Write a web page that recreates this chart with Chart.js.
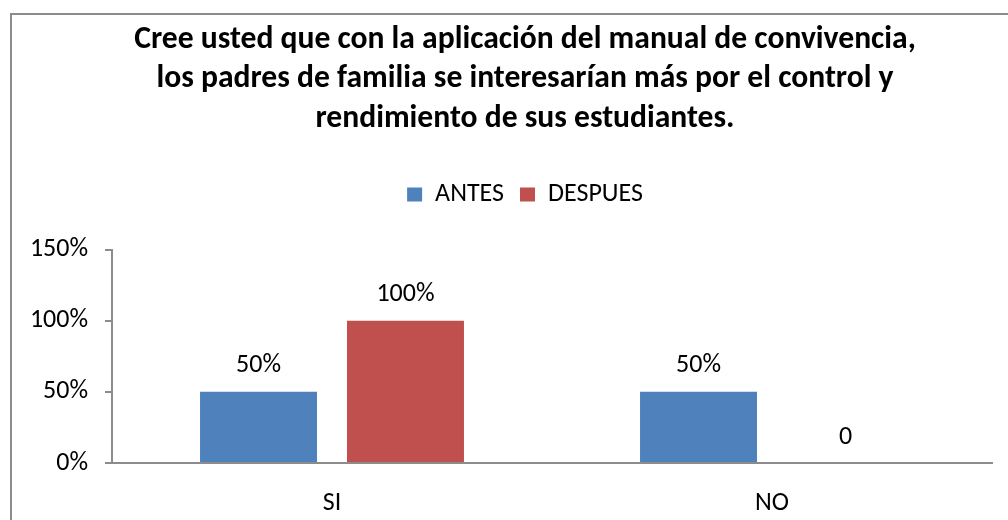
<!DOCTYPE html>
<html>
<head>
<meta charset="utf-8">
<script src="https://cdn.jsdelivr.net/npm/chart.js@4"></script>
<style>
  html, body { margin: 0; padding: 0; background: #fff; overflow: hidden; }
  #frame {
    position: absolute; left: 10px; top: 13px;
    width: 1040px; height: 520px;
    border-left: 2px solid #8c8c8c; border-top: 2px solid #8c8c8c;
  }
  #wrap { position: absolute; left: 0; top: 0; width: 1026px; height: 505px; }
</style>
</head>
<body>
<div id="frame"><div id="wrap"><canvas id="chart"></canvas></div></div>
<script>
// chart values
const categories = ['SI', 'NO'];
const antes = [0.5, 0.5];
const despues = [1.0, 0];
const antesLabels = ['50%', '50%'];
const despuesLabels = ['100%', '0'];
const titleLines = [
  'Cree usted que con la aplicación del manual de convivencia,',
  'los padres de familia se interesarían más por el control y',
  'rendimiento de sus estudiantes.'
];

const font = 'Carlito, Lato, "Open Sans", sans-serif';

// draws the value text over each bar
const barLabels = {
  id: 'barLabels',
  afterDatasetsDraw(chart) {
    const ctx = chart.ctx;
    ctx.save();
    ctx.font = '26px ' + font;
    ctx.fillStyle = '#000';
    ctx.textAlign = 'center';
    ctx.textBaseline = 'middle';
    chart.data.datasets.forEach((ds, i) => {
      chart.getDatasetMeta(i).data.forEach((bar, j) => {
        ctx.fillText(ds.valueLabels[j], bar.x, bar.y - 26);
      });
    });
    ctx.restore();
  }
};

// extra room between legend and plot
const legendGap = {
  id: 'legendGap',
  beforeLayout(chart) {
    const lg = chart.legend;
    if (lg && !lg._gap) {
      const fit = lg.fit.bind(lg);
      lg.fit = function () { fit(); this.height += 32; };
      lg._gap = true;
    }
  }
};

new Chart(document.getElementById('chart'), {
  type: 'bar',
  data: {
    labels: categories,
    datasets: [
      { label: 'ANTES', data: antes, valueLabels: antesLabels, backgroundColor: '#4F81BD' },
      { label: 'DESPUES', data: despues, valueLabels: despuesLabels, backgroundColor: '#C0504D' }
    ]
  },
  options: {
    responsive: true,
    maintainAspectRatio: false,
    animation: false,
    categoryPercentage: 0.668,
    barPercentage: 0.796,
    layout: { padding: 0 },
    plugins: {
      title: {
        display: true,
        text: titleLines,
        color: '#000',
        font: { family: font, size: 31.6, weight: 'bold', lineHeight: 1.25 },
        padding: { top: 5, bottom: 27 }
      },
      legend: {
        position: 'top',
        labels: {
          color: '#000',
          font: { family: font, size: 26 },
          boxWidth: 15,
          boxHeight: 14,
          padding: 16
        }
      },
      tooltip: { enabled: false }
    },
    scales: {
      x: {
        grid: { display: false },
        border: { display: true, color: '#8c8c8c', width: 2 },
        ticks: { color: '#000', font: { family: font, size: 26 }, padding: 17 },
        afterFit(scale) { scale.height = 57; }
      },
      y: {
        min: 0,
        max: 1.5,
        ticks: {
          stepSize: 0.5,
          color: '#000',
          padding: 17,
          font: { family: font, size: 26 },
          callback: v => Math.round(v * 100) + '%'
        },
        grid: { display: true, drawOnChartArea: false, tickLength: 7, color: '#8c8c8c', lineWidth: 2 },
        border: { display: true, color: '#8c8c8c', width: 2 },
        afterFit(scale) { scale.width = 100; }
      },
      // empty right axis, only keeps the plot clear of the right edge
      y2: {
        position: 'right',
        grid: { display: false },
        border: { display: false },
        ticks: { display: false },
        afterFit(scale) { scale.width = 46; }
      }
    }
  },
  plugins: [barLabels, legendGap]
});
</script>
</body>
</html>
